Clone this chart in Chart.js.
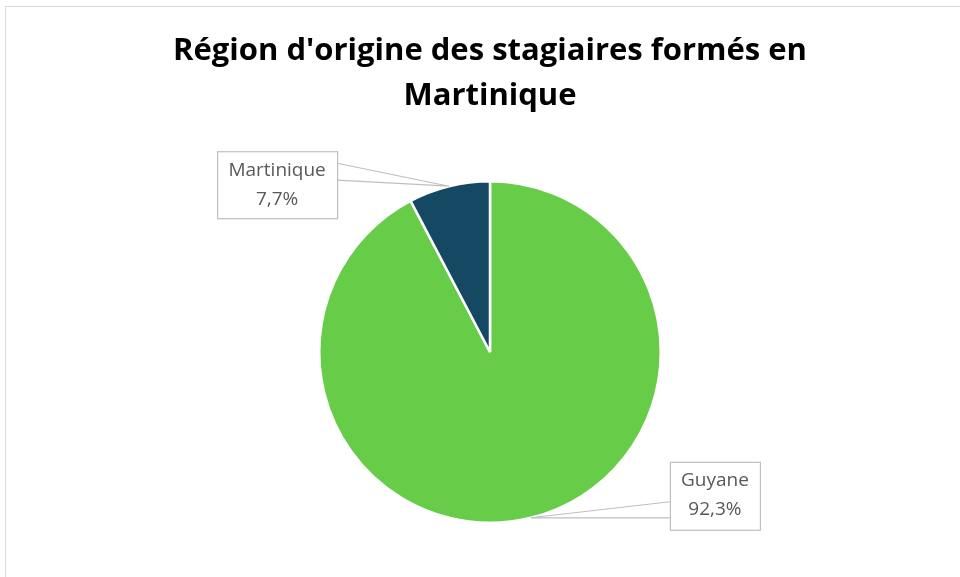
<!DOCTYPE html>
<html>
<head>
<meta charset="utf-8">
<script src="https://cdn.jsdelivr.net/npm/chart.js@4"></script>
<style>
  html, body { margin: 0; padding: 0; background: #fff; }
  #wrap { position: relative; width: 960px; height: 577px; overflow: hidden; }
  #frame { position: absolute; left: 5px; top: 6px; width: 1000px; height: 620px; border: 1px solid #d9d9d9; box-sizing: border-box; }
  canvas { position: absolute; left: 0; top: 0; }
</style>
</head>
<body>
<div id="wrap">
  <div id="frame"></div>
  <canvas id="pie" width="960" height="577"></canvas>
</div>
<script>
// données du graphique
const regions = ['Guyane', 'Martinique'];
const parts = [92.3, 7.7];
const couleurs = ['#67cc48', '#154862'];
const titre = ["Région d'origine des stagiaires formés en", 'Martinique'];

function formatPct(v) {
    return v.toFixed(1).replace('.', ',') + '%';
}

// position des étiquettes (décalage par rapport au point d'ancrage sur l'arc)
const etiquettes = [
    { dx: 139, dy: -56, w: 90, h: 68, side: 'left' },   // Guyane
    { dx: -232, dy: -35, w: 120, h: 67, side: 'right' } // Martinique
];

const calloutPlugin = {
    id: 'callouts',
    afterDraw(chart) {
        const ctx = chart.ctx;
        // titre
        ctx.save();
        ctx.fillStyle = '#000';
        ctx.textAlign = 'center';
        ctx.textBaseline = 'middle';
        ctx.font = 'bold 31px "Open Sans"';
        ctx.fillText(titre[0], 490, 51);
        ctx.fillText(titre[1], 490, 96);
        ctx.restore();

        const meta = chart.getDatasetMeta(0);
        meta.data.forEach(function(arc, i) {
            const p = arc.getProps(['x', 'y', 'startAngle', 'endAngle', 'outerRadius'], true);
            const mid = (p.startAngle + p.endAngle) / 2;
            const ax = p.x + Math.cos(mid) * p.outerRadius;
            const ay = p.y + Math.sin(mid) * p.outerRadius;
            const e = etiquettes[i];
            const bx = ax + e.dx;
            const by = ay + e.dy;
            const edgeX = e.side === 'left' ? bx : bx + e.w;
            let y1, y2;
            if (e.side === 'left') { y1 = by + 40; y2 = by + 56; }
            else { y1 = by + 12; y2 = by + 29; }

            ctx.save();
            ctx.strokeStyle = '#bfbfbf';
            ctx.lineWidth = 1.2;
            ctx.fillStyle = '#fff';
            // leader (forme en coin)
            ctx.beginPath();
            ctx.moveTo(edgeX, y1);
            ctx.lineTo(ax, ay);
            ctx.lineTo(edgeX, y2);
            ctx.stroke();
            // boîte
            ctx.fillRect(bx, by, e.w, e.h);
            ctx.strokeRect(bx + 0.5, by + 0.5, e.w, e.h);
            // texte
            ctx.fillStyle = '#595959';
            ctx.textAlign = 'center';
            ctx.textBaseline = 'middle';
            ctx.font = '19px "Open Sans"';
            ctx.fillText(regions[i], bx + e.w / 2, by + 19);
            ctx.fillText(formatPct(parts[i]), bx + e.w / 2, by + 48);
            ctx.restore();
        });
    }
};

new Chart(document.getElementById('pie'), {
    type: 'pie',
    data: {
        labels: regions,
        datasets: [{
            data: parts,
            backgroundColor: couleurs,
            borderColor: '#ffffff',
            borderWidth: 2.5
        }]
    },
    options: {
        responsive: false,
        animation: false,
        layout: { padding: { top: 180, bottom: 53, left: 100, right: 80 } },
        plugins: {
            legend: { display: false },
            tooltip: { enabled: false },
            title: { display: false }
        }
    },
    plugins: [calloutPlugin]
});
</script>
</body>
</html>
